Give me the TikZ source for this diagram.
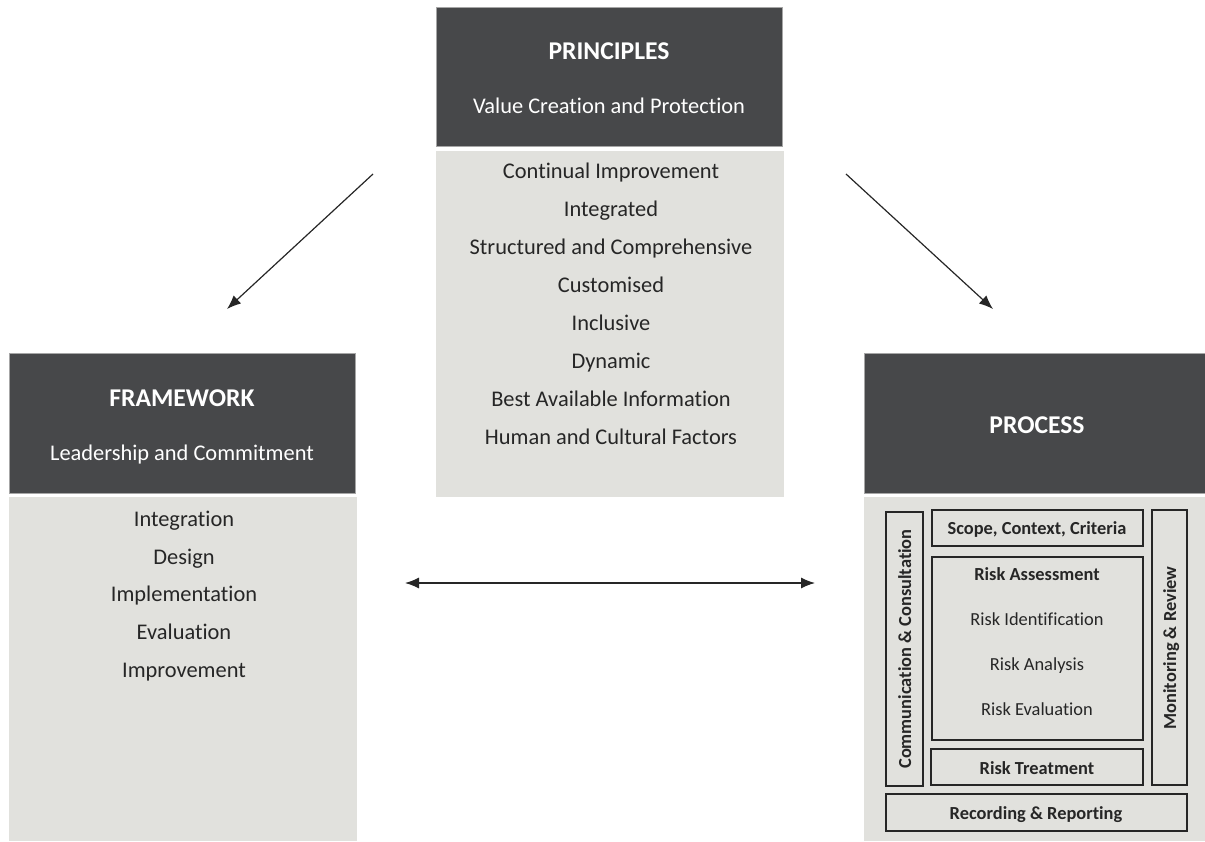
\documentclass[tikz,border=0pt]{standalone}
\usepackage{fontspec}
\setmainfont{Carlito}[Ligatures={NoCommon}]
\usetikzlibrary{arrows.meta}

\definecolor{headgray}{HTML}{47484A}
\definecolor{bodygray}{HTML}{E1E1DD}
\definecolor{txtgray}{HTML}{262626}

\tikzset{
  head/.style={fill=headgray, draw=gray!70, line width=0.4pt},
  body/.style={fill=bodygray},
  inbox/.style={draw=txtgray, line width=0.8pt},
  htxt/.style={text=white, font=\fontsize{11.2}{13}\selectfont, text height=9pt, text depth=0.5pt},
  ttl/.style={text=white, font=\fontsize{12.8}{15}\selectfont\bfseries, text height=10pt, text depth=0.5pt},
  btxt/.style={text=txtgray, font=\fontsize{11.2}{13}\selectfont, text height=9pt, text depth=0.5pt},
  stxt/.style={text=txtgray, font=\fontsize{9.2}{11}\selectfont, text height=6.6pt, text depth=0.4pt},
  link/.style={line width=0.6pt, draw=txtgray, -{Latex[length=7pt,width=5.5pt]}},
  both/.style={line width=0.6pt, draw=txtgray, {Latex[length=7pt,width=5.5pt]}-{Latex[length=7pt,width=5.5pt]}}
}

\begin{document}
\begin{tikzpicture}[x=0.5pt,y=-0.5pt]
\useasboundingbox (0,0) rectangle (1205,841);
% principles
\draw [head] (436,7) rectangle (782,146);
\fill [body] (436,151) rectangle (784,497);
\node [ttl] (prin) at (609,50) {PRINCIPLES};
\node [htxt] (prinsub) at (609,105) {Value Creation and Protection};
\foreach \t [count=\i from 0] in {Continual Improvement, Integrated,
    Structured and Comprehensive, Customised, Inclusive, Dynamic,
    Best Available Information, Human and Cultural Factors}
  \node [btxt] (prin\i) at (611,170+38*\i) {\t};
% framework
\draw [head] (9,353) rectangle (355,493);
\fill [body] (9,497) rectangle (357,841);
\node [ttl] (frame) at (182,397) {FRAMEWORK};
\node [htxt] (framesub) at (182,452) {Leadership and Commitment};
\foreach \t [count=\i from 0] in {Integration, Design, Implementation,
    Evaluation, Improvement}
  \node [btxt] (frame\i) at (184,518+37.7*\i) {\t};
% process
\draw [head] (864,353) rectangle (1205,493);
\fill [body] (864,497) rectangle (1205,841);
\node [ttl] (proc) at (1037,424) {PROCESS};
\draw [inbox] (886,512) rectangle (923,786);
\node [stxt, rotate=90] (comm) at (905,649) {\textbf{Communication \& Consultation}};
\draw [inbox] (932,510) rectangle (1143,546);
\node [stxt] (scope) at (1037,528) {\textbf{Scope, Context, Criteria}};
\draw [inbox] (932,557) rectangle (1143,740);
\node [stxt] (assess) at (1037,574) {\textbf{Risk Assessment}};
\node [stxt] (ident) at (1037,619) {Risk Identification};
\node [stxt] (anal) at (1037,664) {Risk Analysis};
\node [stxt] (eval) at (1037,709) {Risk Evaluation};
\draw [inbox] (931,749) rectangle (1143,785);
\node [stxt] (treat) at (1037,768) {\textbf{Risk Treatment}};
\draw [inbox] (1152,510) rectangle (1187,785);
\node [stxt, rotate=90] (monit) at (1170,648) {\textbf{Monitoring \& Review}};
\draw [inbox] (886,794) rectangle (1187,831);
\node [stxt] (record) at (1036,813) {\textbf{Recording \& Reporting}};
% arrows
\coordinate (lfrom) at (373,174); \coordinate (lto) at (227,309);
\coordinate (rfrom) at (846,174); \coordinate (rto) at (993,309);
\coordinate (mleft) at (405,583); \coordinate (mright) at (815,583);
\draw [link] (lfrom) -- (lto);
\draw [link] (rfrom) -- (rto);
\draw [both] (mleft) -- (mright);
\end{tikzpicture}
\end{document}
